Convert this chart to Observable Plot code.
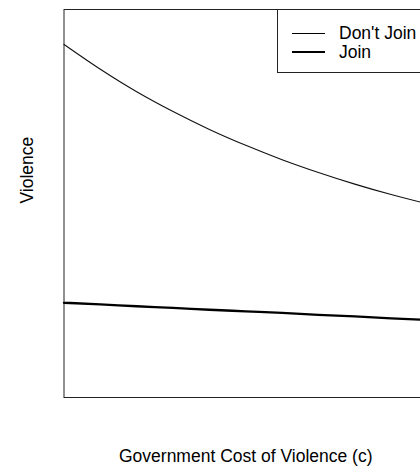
<!DOCTYPE html>
<html>
<head>
<meta charset="utf-8">
<script src="https://cdn.jsdelivr.net/npm/d3@7"></script>
<script src="https://cdn.jsdelivr.net/npm/@observablehq/plot@0.6"></script>
<style>
  html, body { margin: 0; padding: 0; background: #fff; overflow: hidden; }
  #wrap { position: relative; width: 420px; height: 470px; overflow: hidden; }
  #wrap svg { position: absolute; left: 0; top: 0; max-width: none !important; width: 440px; height: 470px; }
  .legend {
    position: absolute; left: 277px; top: 9px; width: 160px; height: 62px;
    border: 1px solid #222; background: #fff;
    font-family: "Liberation Sans", Arial, Helvetica, sans-serif; font-size: 17.5px; color: #000;
  }
  .legend .row { position: absolute; left: 14px; height: 20px; }
  .legend .sw { position: absolute; left: 0; width: 33px; background: #000; }
  .legend .lab { position: absolute; left: 47px; white-space: nowrap; line-height: 20px; }
</style>
</head>
<body>
<div id="wrap"></div>
<script>
// Government cost of violence (c), unitless 0..1
const cost = [0, 0.1, 0.2, 0.3, 0.4, 0.5, 0.6, 0.7, 0.8, 0.9, 1.0];
// Equilibrium violence when the group does not join
const violenceDontJoin = [0.910, 0.846, 0.788, 0.737, 0.691, 0.650, 0.613, 0.580, 0.550, 0.523, 0.499];
// Equilibrium violence when the group joins
const violenceJoin = [0.244, 0.240, 0.235, 0.231, 0.226, 0.222, 0.218, 0.213, 0.209, 0.204, 0.200];

const seriesNames = ["Don't Join", "Join"];
const xTitle = "Government Cost of Violence (c)";
const yTitle = "Violence";

const rows = [
  ...cost.map((c, i) => ({c, v: violenceDontJoin[i], s: seriesNames[0]})),
  ...cost.map((c, i) => ({c, v: violenceJoin[i], s: seriesNames[1]}))
];

const font = "'Liberation Sans', Arial, Helvetica, sans-serif";

const chart = Plot.plot({
  width: 440,
  height: 470,
  marginLeft: 63.5,
  marginRight: 13,
  marginTop: 9,
  marginBottom: 73,
  style: {fontFamily: font, fontSize: "17.5px", background: "#fff", color: "#000", maxWidth: "none"},
  x: {domain: [0, 1], axis: null},
  y: {domain: [0, 1], axis: null},
  marks: [
    Plot.frame({stroke: "#222", strokeWidth: 1}),
    Plot.line(rows.filter(d => d.s === seriesNames[0]), {
      x: "c", y: "v", curve: "monotone-x", stroke: "#111", strokeWidth: 1.1
    }),
    Plot.line(rows.filter(d => d.s === seriesNames[1]), {
      x: "c", y: "v", curve: "monotone-x", stroke: "#000", strokeWidth: 2.4
    }),
    Plot.text([xTitle], {
      frameAnchor: "bottom", dy: 59, lineAnchor: "middle",
      fontSize: 17.5, fill: "#000"
    }),
    Plot.text([yTitle], {
      frameAnchor: "left", dx: -37, rotate: -90, lineAnchor: "middle",
      fontSize: 17.5, fill: "#000"
    })
  ]
});

const wrap = document.getElementById("wrap");
wrap.appendChild(chart);

// Legend box in the top-right corner of the panel
const legend = document.createElement("div");
legend.className = "legend";
const entries = [
  {name: seriesNames[0], width: 1, top: 13},
  {name: seriesNames[1], width: 2.4, top: 32}
];
for (const e of entries) {
  const row = document.createElement("div");
  row.className = "row";
  row.style.top = e.top + "px";
  const sw = document.createElement("div");
  sw.className = "sw";
  sw.style.height = e.width + "px";
  sw.style.top = (10 - e.width / 2) + "px";
  const lab = document.createElement("div");
  lab.className = "lab";
  lab.textContent = e.name;
  row.appendChild(sw);
  row.appendChild(lab);
  legend.appendChild(row);
}
wrap.appendChild(legend);
</script>
</body>
</html>
